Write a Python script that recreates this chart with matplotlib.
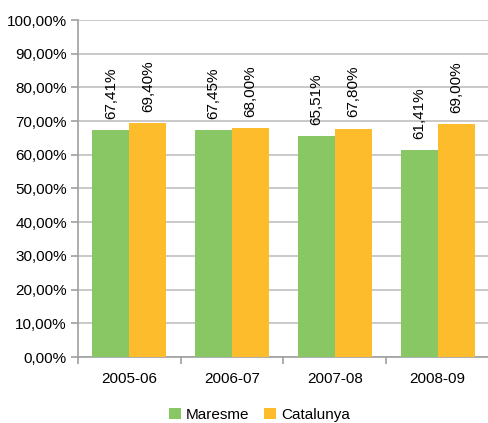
import matplotlib.pyplot as plt
import numpy as np

plt.rcParams['font.family'] = ['Liberation Sans', 'DejaVu Sans']

cursos = ['2005-06', '2006-07', '2007-08', '2008-09']
maresme = [67.41, 67.45, 65.51, 61.41]
catalunya = [69.40, 68.00, 67.80, 69.00]
series_names = ['Maresme', 'Catalunya']
colors = ['#89c664', '#fdbc2b']

fs = 11

fig = plt.figure(figsize=(4.89, 4.23), dpi=100)
ax = fig.add_axes([78 / 489, 1 - 357 / 423, 411 / 489, 337 / 423])

x = np.arange(len(cursos))
w = 0.36
bars1 = ax.bar(x - w / 2, maresme, w, color=colors[0], label=series_names[0], zorder=3)
bars2 = ax.bar(x + w / 2, catalunya, w, color=colors[1], label=series_names[1], zorder=3)

for bars, vals in ((bars1, maresme), (bars2, catalunya)):
    for b, v in zip(bars, vals):
        ax.annotate(f'{v:.2f}%'.replace('.', ','),
                    (b.get_x() + b.get_width() / 2, v),
                    xytext=(0, 8), textcoords='offset points',
                    rotation=90, ha='center', va='bottom', fontsize=fs)

ax.set_ylim(0, 100)
ax.set_yticks(np.arange(0, 101, 10))
ax.set_yticklabels([f'{t},00%' for t in range(0, 101, 10)], fontsize=fs)
ax.set_xlim(-0.5, len(cursos) - 0.5)
ax.set_xticks(x)
ax.set_xticklabels(cursos, fontsize=fs)
ax.set_xticks(np.arange(-0.5, len(cursos)), minor=True)
ax.tick_params(axis='x', which='major', length=0, pad=11)
ax.tick_params(axis='x', which='minor', length=5, color='#a0a0a0', width=1.2)
ax.tick_params(axis='y', length=5, color='#a0a0a0', width=1.2, pad=3)

ax.grid(axis='y', color='#c0c0c0', linewidth=1.2, zorder=0)
for s in ('left', 'bottom'):
    ax.spines[s].set_color('#a0a0a0')
    ax.spines[s].set_linewidth(1.2)
ax.spines['top'].set_visible(False)
ax.spines['right'].set_visible(False)

fig.legend(loc='lower center', bbox_to_anchor=(0.53, -0.03), ncol=2, frameon=False,
           fontsize=fs, handlelength=0.8, handleheight=0.8, handletextpad=0.3,
           columnspacing=1.0)

fig.savefig('out.png', dpi=100)
